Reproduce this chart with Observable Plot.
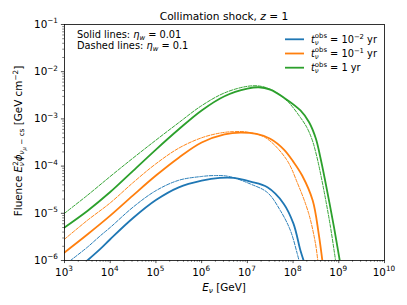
<!DOCTYPE html>
<html><head><meta charset="utf-8">
<script src="https://cdn.jsdelivr.net/npm/d3@7"></script>
<script src="https://cdn.jsdelivr.net/npm/@observablehq/plot@0.6"></script>
<style>
body{margin:0;background:#fff}
svg{font-family:"DejaVu Sans",sans-serif}
</style>
</head><body><div id="chart"></div>
<script>
// ---- data (E in GeV, fluence in GeV cm^-2) ----
const blueSolidE = [3.16e3, 6.17e3, 1e4, 3.16e4, 1e5, 3.16e5, 1e6, 2.51e6, 5.01e6, 1.17e7, 2.75e7, 6.17e7, 1.02e8, 1.45e8, 1.70e8];
const blueSolidF = [1.0e-6, 1.78e-6, 2.82e-6, 7.94e-6, 1.91e-5, 3.55e-5, 4.90e-5, 5.62e-5, 5.62e-5, 4.68e-5, 3.55e-5, 1.62e-5, 6.03e-6, 1.62e-6, 1.0e-6];

const blueDashE = [1.35e3, 3.16e3, 6.17e3, 1e4, 3.16e4, 1e5, 3.16e5, 1e6, 2.0e6, 3.98e6, 1.17e7, 2.75e7, 5.25e7, 8.71e7, 1.23e8, 1.35e8];
const blueDashF = [1e-6, 1.91e-6, 3.39e-6, 5.01e-6, 1.35e-5, 3.02e-5, 5.01e-5, 6.03e-5, 6.31e-5, 6.03e-5, 4.17e-5, 2.75e-5, 1.15e-5, 4.37e-6, 1.41e-6, 1e-6];

const orangeSolidE = [1e3, 3.16e3, 1e4, 3.16e4, 1e5, 3.16e5, 1e6, 3.16e6, 7.08e6, 1.58e7, 3.16e7, 6.31e7, 1e8, 1.58e8, 2.69e8, 3.63e8, 4.37e8];
const orangeSolidF = [1.48e-6, 3.55e-6, 8.91e-6, 2.40e-5, 6.31e-5, 1.51e-4, 3.16e-4, 4.68e-4, 5.13e-4, 4.79e-4, 3.80e-4, 2.24e-4, 1.26e-4, 6.31e-5, 1.86e-5, 3.72e-6, 1e-6];

const orangeDashE = [1e3, 3.16e3, 1e4, 3.16e4, 1e5, 3.16e5, 1e6, 2.51e6, 5.01e6, 1e7, 2.51e7, 7.08e7, 1.26e8, 2.19e8, 3.09e8, 3.47e8];
const orangeDashF = [2.82e-6, 7.08e-6, 1.66e-5, 4.47e-5, 1.12e-4, 2.40e-4, 3.98e-4, 5.01e-4, 5.37e-4, 5.25e-4, 3.98e-4, 1.41e-4, 4.27e-5, 1e-5, 2.29e-6, 1e-6];

const greenSolidE = [1e3, 3.16e3, 1e4, 3.16e4, 1e5, 3.16e5, 1e6, 3.16e6, 1e7, 1.78e7, 3.16e7, 6.31e7, 1.45e8, 2.24e8, 3.16e8, 3.98e8, 5.01e8, 6.31e8, 7.94e8, 1.05e9];
const greenSolidF = [5.01e-6, 1.12e-5, 2.82e-5, 7.94e-5, 2.24e-4, 6.03e-4, 1.51e-3, 3.02e-3, 4.37e-3, 4.68e-3, 4.17e-3, 2.82e-3, 1.51e-3, 8.51e-4, 3.80e-4, 1.48e-4, 5.01e-5, 1.58e-5, 4.79e-6, 1e-6];

const greenDashE = [1e3, 3.16e3, 1e4, 3.16e4, 1e5, 3.16e5, 1e6, 3.16e6, 1e7, 2.0e7, 3.98e7, 7.94e7, 1.45e8, 2.0e8, 2.63e8, 3.31e8, 4.17e8, 5.25e8, 6.61e8, 8.51e8];
const greenDashF = [1e-5, 2.40e-5, 6.03e-5, 1.48e-4, 3.55e-4, 8.32e-4, 1.91e-3, 3.55e-3, 4.90e-3, 4.90e-3, 3.80e-3, 2.24e-3, 1.07e-3, 6.61e-4, 3.55e-4, 1.58e-4, 5.62e-5, 1.78e-5, 5.01e-6, 1e-6];

const seriesColors = ["#1f77b4", "#ff7f0e", "#2ca02c"];
const legendExponents = ["−2", "−1", null];   // t_obs = 10^-2 yr, 10^-1 yr, 1 yr
const xTickExps = [3, 4, 5, 6, 7, 8, 9, 10];
const yTickExps = [-6, -5, -4, -3, -2, -1];
const titleText = "Collimation shock, ";
const noteLines = [["Solid lines: ", "0.01"], ["Dashed lines: ", "0.1"]];

// ---- build tables ----
const series = [
  {E: blueSolidE, F: blueSolidF, c: 0, dashed: false},
  {E: blueDashE, F: blueDashF, c: 0, dashed: true},
  {E: orangeSolidE, F: orangeSolidF, c: 1, dashed: false},
  {E: orangeDashE, F: orangeDashF, c: 1, dashed: true},
  {E: greenSolidE, F: greenSolidF, c: 2, dashed: false},
  {E: greenDashE, F: greenDashF, c: 2, dashed: true}
];
const rows = s => s.E.map((e, i) => ({E: e, F: s.F[i]}));

const majorX = xTickExps.map(k => Math.pow(10, k));
const majorY = yTickExps.map(k => Math.pow(10, k));
const minorX = [], minorY = [];
for (let d = 3; d < 10; d++) for (let m = 2; m <= 9; m++) minorX.push(m * Math.pow(10, d));
for (let d = -6; d < -1; d++) for (let m = 2; m <= 9; m++) minorY.push(m * Math.pow(10, d));

const chart = Plot.plot({
  width: 407, height: 305,
  marginLeft: 64, marginRight: 23, marginTop: 24, marginBottom: 45,
  x: {type: "log", domain: [1e3, 1e10]},
  y: {type: "log", domain: [1e-6, 1e-1]},
  style: {fontFamily: "DejaVu Sans", fontSize: "10px", background: "white", color: "black", overflow: "visible"},
  marks: [
    ...series.map(s => Plot.line(rows(s), {
      x: "E", y: "F", stroke: seriesColors[s.c],
      strokeWidth: s.dashed ? 0.95 : 1.8,
      strokeDasharray: s.dashed ? "3.4,1.5" : null,
      curve: "catmull-rom", clip: true
    })),
    Plot.axisX({ticks: majorX, tickSize: 3.1, strokeWidth: 0.7, tickFormat: () => "", label: null}),
    Plot.axisX({ticks: minorX, tickSize: 1.8, strokeWidth: 0.5, tickFormat: () => "", label: null}),
    Plot.axisY({ticks: majorY, tickSize: 3.1, strokeWidth: 0.7, tickFormat: () => "", label: null}),
    Plot.axisY({ticks: minorY, tickSize: 1.8, strokeWidth: 0.5, tickFormat: () => "", label: null}),
    Plot.frame({stroke: "black", strokeWidth: 0.8})
  ]
});
document.getElementById("chart").appendChild(chart);

const svg = d3.select(chart);
const xs = chart.scale("x"), ys = chart.scale("y");
const FT = 10.4;   // tick & axis label size
const FL = 9.8;    // legend & note size

function txt(x, y, anchor) {
  return svg.append("text").attr("x", x).attr("y", y).attr("text-anchor", anchor || "start")
    .attr("fill", "black").attr("font-family", "DejaVu Sans");
}
function rich(sel, parts, size) {
  let cur = 0;
  const nodes = [];
  for (const p of parts) {
    const shift = (p.s || 0) * size;
    const sp = sel.append("tspan").text(p.t).attr("font-size", size * (p.fs || 1));
    let dy = shift - cur + (p.line || 0);
    if (p.x != null) sp.attr("x", p.x);
    if (Math.abs(dy) > 1e-6) sp.attr("dy", dy);
    cur = shift;
    if (p.i) sp.attr("font-style", "italic");
    if (p.dx) sp.attr("dx", p.dx);
    nodes.push(sp.node());
  }
  return nodes;
}
const SUP = -0.42, SUB = 0.22, SS = 0.7;

// x tick labels
for (const k of xTickExps) {
  const t = txt(xs.apply(Math.pow(10, k)), 275.5, "middle");
  rich(t, [{t: "10"}, {t: String(k), s: SUP, fs: SS}], FT);
}
// y tick labels
for (const k of yTickExps) {
  const t = txt(58, ys.apply(Math.pow(10, k)) + 3.8, "end");
  rich(t, [{t: "10"}, {t: (k < 0 ? "−" : "") + Math.abs(k), s: SUP, fs: SS}], FT);
}
// x label
{
  const t = txt(224, 290.5, "middle");
  rich(t, [{t: "E", i: true}, {t: "ν", i: true, s: SUB, fs: SS}, {t: " [GeV]"}], FT);
}
// y label
{
  const t = svg.append("text").attr("transform", "translate(22,141) rotate(-90)")
    .attr("text-anchor", "middle").attr("fill", "black").attr("font-family", "DejaVu Sans");
  rich(t, [
    {t: "Fluence "}, {t: "E", i: true}, {t: "2", s: SUP, fs: SS},
    {t: "ν", i: true, s: SUB, fs: SS, dx: -5.0},
    {t: "ϕ", i: true, dx: 0.8}, {t: "ν", i: true, s: SUB, fs: SS},
    {t: "μ", i: true, s: 0.36, fs: 0.5}, {t: " − cs", s: SUB, fs: SS},
    {t: " [GeV cm"}, {t: "−2", s: SUP, fs: SS}, {t: "]"}
  ], FT);
}
// title
{
  const t = txt(224, 19.5, "middle");
  rich(t, [{t: titleText}, {t: "z", i: true}, {t: " = 1"}], 10.6);
}
// note lines (one text block, two lines)
{
  const t = txt(77, 38.4);
  const parts = [];
  noteLines.forEach((ln, i) => {
    parts.push({t: ln[0], x: 77, line: i ? 10.4 : 0}, {t: "η", i: true},
      {t: "w", i: true, s: 0.18, fs: SS}, {t: " = " + ln[1]});
  });
  rich(t, parts, FL);
}
// legend
legendExponents.forEach((ex, i) => {
  const cy = 39.3 + i * 14.2;
  svg.append("line").attr("x1", 285).attr("x2", 304).attr("y1", cy).attr("y2", cy)
    .attr("stroke", seriesColors[i]).attr("stroke-width", 1.8);
  const t = txt(311, cy + 3.4);
  const n = rich(t, [{t: "t", i: true}, {t: "obs", s: -0.45, fs: SS}], FL);
  const wObs = n[1].getComputedTextLength();
  const nu = t.append("tspan").text("ν").attr("font-size", FL * SS).attr("font-style", "italic")
    .attr("dy", (SUB + 0.45) * FL).attr("dx", -wObs);
  const wNu = nu.node().getComputedTextLength();
  t.append("tspan").attr("dy", -SUB * FL).attr("dx", wObs - wNu).attr("font-size", FL)
    .text(ex ? " = 10" : " = 1 yr");
  if (ex) {
    t.append("tspan").text(ex).attr("font-size", FL * SS).attr("dy", SUP * FL);
    t.append("tspan").text(" yr").attr("font-size", FL).attr("dy", -SUP * FL);
  }
});
</script>
</body></html>
